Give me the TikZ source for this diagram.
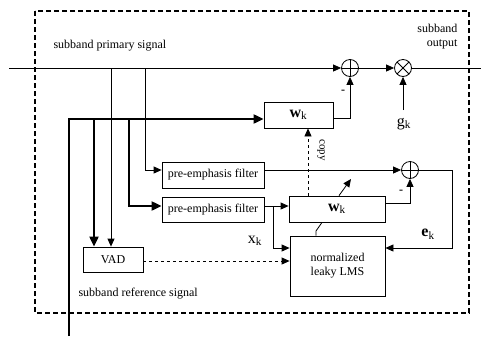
\documentclass[tikz,border=0pt]{standalone}
\usepackage{fontspec}
\setmainfont{Liberation Serif}
\usetikzlibrary{arrows.meta}
\begin{document}
\begin{tikzpicture}[x=1pt,y=-1pt,
  every node/.style={font=\fontsize{12}{14}\selectfont},
  thin line/.style={line width=0.8pt},
  thick line/.style={line width=2pt},
  arr/.style={-{Triangle[length=8pt,width=7pt]}},
  tarr/.style={-{Triangle[length=10pt,width=9pt]}},
  blockbox/.style={draw,line width=0.8pt,inner sep=0pt,anchor=center},
  sumnode/.style={draw,circle,line width=0.8pt,minimum size=17pt,inner sep=0pt,
    path picture={\draw[line width=0.8pt] (path picture bounding box.north)--(path picture bounding box.south)
      (path picture bounding box.west)--(path picture bounding box.east);}},
  multnode/.style={draw,circle,line width=0.8pt,minimum size=17pt,inner sep=0pt,
    path picture={\draw[line width=0.8pt] (path picture bounding box.north west)--(path picture bounding box.south east)
      (path picture bounding box.south west)--(path picture bounding box.north east);}},
  biglabel/.style={font=\fontsize{16}{18}\selectfont}
]
\useasboundingbox (0,0) rectangle (481,338);
% frame
\draw[dashed,line width=1.6pt,dash pattern=on 5pt off 3pt] (35,11) rectangle (469,313);

% nodes
\node[blockbox,minimum width=69pt,minimum height=26pt] (wk1) at (298.5,115) {\fontsize{16}{18}\selectfont\textbf{w}\textsubscript{k}};
\node[blockbox,minimum width=102pt,minimum height=26pt] (pe1) at (213,175) {pre-emphasis filter};
\node[blockbox,minimum width=102pt,minimum height=25pt] (pe2) at (213,209.5) {pre-emphasis filter};
\node[blockbox,minimum width=96pt,minimum height=26pt] (wk2) at (337,209) {\fontsize{16}{18}\selectfont\textbf{w}\textsubscript{k}};
\node[blockbox,minimum width=95pt,minimum height=60pt,align=center] (lms) at (337.5,266) {normalized\\leaky LMS};
\node[blockbox,minimum width=60pt,minimum height=25pt] (vad) at (113,259.5) {VAD};
\node[sumnode] (sum1) at (350,68) {};
\node[multnode] (mult) at (403,68) {};
\node[sumnode] (sum2) at (410,170) {};

% coordinates
\coordinate (pin) at (9,68);
\coordinate (pout) at (481,68);
\coordinate (gin) at (403,110);
\coordinate (rbot) at (69,336);
\coordinate (rtop) at (69,119);

% primary path
\draw[thin line,arr] (pin) -- (sum1);
\draw[thin line,arr] (sum1) -- (mult);
\draw[thin line] (mult) -- (pout);
\draw[thin line,arr] (gin) -- (mult);
\node[biglabel] (gk) at (404,124) {g\textsubscript{k}};

% wk1 -> sum1
\draw[thin line,arr] (wk1.east |- 0,118) -- (350,118) -- (sum1.south);
\node[font=\bfseries\fontsize{12}{14}\selectfont] (m1) at (343,92) {-};

% thick reference lines
\draw[thick line,tarr] (rbot) -- (rtop) -- (wk1.west |- rtop);
\draw[thick line,tarr] (94,119) -- (vad.north -| 94,0);
\draw[thick line,tarr] (129,119) -- (129,206) -- (pe2.west |- 0,206);

% thin primary branches
\draw[thin line,arr] (111,68) -- (vad.north -| 111,0);
\draw[thin line,arr] (145,68) -- (145,170) -- (pe1.west |- 0,170);

% pe1 -> sum2
\draw[thin line,arr] (pe1.east |- 0,170) -- (sum2.west);
% pe2 -> wk2, lms
\draw[thin line,arr] (pe2.east |- 0,206) -- (wk2.west |- 0,206);
\draw[thin line,arr] (273,206) -- (273,248) -- (lms.west |- 0,248);
\node[biglabel] (xk) at (255,241) {x\textsubscript{k}};

% wk2 -> sum2
\draw[thin line,arr] (wk2.east |- 0,203) -- (410,203) -- (sum2.south);
\node[font=\bfseries\fontsize{12}{14}\selectfont] (m2) at (401,192) {-};

% error feedback
\draw[thin line,arr] (sum2.east) -- (452,170) -- (452,248) -- (lms.east |- 0,248);
\node[biglabel] (ek) at (428,234) {\textbf{e}\textsubscript{k}};

% VAD -> LMS
\draw[thin line,dashed,arr] (vad.east |- 0,261) -- (lms.west |- 0,261);

% copy
\draw[thin line,dashed,arr] (wk2.north -| 308,0) -- (wk1.south -| 308,0);
\node[rotate=-90,font=\fontsize{11}{13}\selectfont] (copy) at (321,150) {copy};

% adaptation arrow
\draw[thin line,arr] (wk2.north -| 339,0) -- (351,179);
% LMS - wk2 link
\draw[thin line] (lms.north -| 316,0) -- (316,231) -- (wk2.south -| 322,0);

% labels
\node[anchor=west] (psig) at (50,46) {subband primary signal};
\node[anchor=west] (rsig) at (75,294) {subband reference signal};
\node[align=right,anchor=east] (sout) at (461,37) {subband\\output};
\end{tikzpicture}
\end{document}
